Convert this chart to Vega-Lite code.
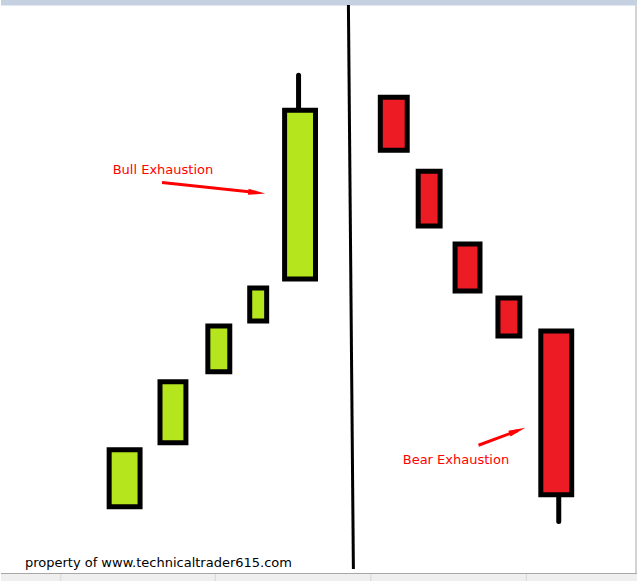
{
  "$schema": "https://vega.github.io/schema/vega-lite/v6.json",
  "width": 638,
  "height": 582,
  "padding": 0,
  "autosize": {"type": "fit", "contains": "padding"},
  "background": "#ffffff",
  "config": {"view": {"stroke": null}},
  "resolve": {"scale": {"color": "independent", "fill": "independent"}},
  "datasets": {
    "frame": [
      {"part": "top", "x0": 0, "x1": 638, "p0": 576.5, "p1": 582, "fill": "top"},
      {"part": "bottom", "x0": 0, "x1": 638, "p0": 0, "p1": 7, "fill": "bottom"}
    ],
    "seps": [
      {"x": 60, "p0": 0, "p1": 7},
      {"x": 215, "p0": 0, "p1": 7},
      {"x": 371, "p0": 0, "p1": 7},
      {"x": 527, "p0": 0, "p1": 7}
    ],
    "edges": [
      {"x0": 0, "x1": 638, "p0": 7.5, "p1": 7.5},
      {"x0": 637, "x1": 637, "p0": 7.5, "p1": 576.5}
    ],
    "candles": [
      {"id": "G1", "kind": "bull", "left": 108.5, "right": 139.5, "top": 131.5, "bottom": 74.5},
      {"id": "G2", "kind": "bull", "left": 159.5, "right": 185.5, "top": 199.5, "bottom": 138.5},
      {"id": "G3", "kind": "bull", "left": 207.5, "right": 229.5, "top": 255.5, "bottom": 209.5},
      {"id": "G4", "kind": "bull", "left": 249.5, "right": 266.5, "top": 293.5, "bottom": 260.5},
      {"id": "G5", "kind": "bull", "left": 284.5, "right": 315.5, "top": 471.5, "bottom": 302.5},
      {"id": "R1", "kind": "bear", "left": 380.5, "right": 407.5, "top": 484.5, "bottom": 431.5},
      {"id": "R2", "kind": "bear", "left": 418.5, "right": 440.5, "top": 410.5, "bottom": 355.5},
      {"id": "R3", "kind": "bear", "left": 455.5, "right": 480.5, "top": 337.5, "bottom": 290.5},
      {"id": "R4", "kind": "bear", "left": 498.5, "right": 520.5, "top": 283.5, "bottom": 245.5},
      {"id": "R5", "kind": "bear", "left": 541.5, "right": 572.5, "top": 250.5, "bottom": 86.5}
    ],
    "wicks": [
      {"id": "G5", "x": 298.5, "high": 506.5, "low": 472},
      {"id": "R5", "x": 559.5, "high": 87, "low": 59.5}
    ],
    "divider": [
      {"x0": 348.5, "p0": 577, "x1": 353.5, "p1": 12}
    ],
    "arrowLines": [
      {"arrow": "bull", "x": 161.5, "p": 399.3},
      {"arrow": "bull", "x": 256, "p": 389.1},
      {"arrow": "bear", "x": 479, "p": 136},
      {"arrow": "bear", "x": 518, "p": 150.5}
    ],
    "arrowHeads": [
      {"arrow": "bull", "x": 256.5, "p": 389, "angle": 6},
      {"arrow": "bear", "x": 518, "p": 150.5, "angle": -20}
    ],
    "labels": [
      {"text": "Bull Exhaustion", "x": 112, "p": 408, "kind": "note"},
      {"text": "Bear Exhaustion", "x": 403, "p": 117, "kind": "note"},
      {"text": "property of www.technicaltrader615.com", "x": 24, "p": 14, "kind": "credit"}
    ]
  },
  "layer": [
    {
      "data": {"name": "frame"},
      "mark": {"type": "rect"},
      "encoding": {
        "x": {"field": "x0", "type": "quantitative", "scale": {"domain": [0, 638], "nice": false, "zero": false}, "axis": null},
        "x2": {"field": "x1"},
        "y": {"field": "p0", "type": "quantitative", "scale": {"domain": [0, 582], "nice": false, "zero": false}, "axis": null},
        "y2": {"field": "p1"},
        "color": {"field": "fill", "type": "nominal", "scale": {"domain": ["top", "bottom"], "range": ["#c5d0e1", "#f0efef"]}, "legend": null}
      }
    },
    {
      "data": {"name": "seps"},
      "mark": {"type": "rule", "color": "#d6d6d6", "strokeWidth": 1},
      "encoding": {
        "x": {"field": "x", "type": "quantitative"},
        "y": {"field": "p0", "type": "quantitative"},
        "y2": {"field": "p1"}
      }
    },
    {
      "data": {"name": "edges"},
      "mark": {"type": "rule", "color": "#a8a8a8", "strokeWidth": 1},
      "encoding": {
        "x": {"field": "x0", "type": "quantitative"},
        "x2": {"field": "x1"},
        "y": {"field": "p0", "type": "quantitative"},
        "y2": {"field": "p1"}
      }
    },
    {
      "data": {"name": "divider"},
      "mark": {"type": "rule", "color": "#000000", "strokeWidth": 3},
      "encoding": {
        "x": {"field": "x0", "type": "quantitative"},
        "x2": {"field": "x1"},
        "y": {"field": "p0", "type": "quantitative"},
        "y2": {"field": "p1"}
      }
    },
    {
      "data": {"name": "wicks"},
      "mark": {"type": "rule", "color": "#000000", "strokeWidth": 5, "strokeCap": "round"},
      "encoding": {
        "x": {"field": "x", "type": "quantitative"},
        "y": {"field": "high", "type": "quantitative"},
        "y2": {"field": "low"}
      }
    },
    {
      "data": {"name": "candles"},
      "mark": {"type": "rect", "stroke": "#000000", "strokeWidth": 5, "strokeJoin": "miter"},
      "encoding": {
        "x": {"field": "left", "type": "quantitative"},
        "x2": {"field": "right"},
        "y": {"field": "top", "type": "quantitative"},
        "y2": {"field": "bottom"},
        "fill": {"field": "kind", "type": "nominal", "scale": {"domain": ["bull", "bear"], "range": ["#b5e61d", "#ed1c24"]}, "legend": null}
      }
    },
    {
      "data": {"name": "arrowLines"},
      "mark": {"type": "line", "color": "#ff0000", "strokeWidth": 3},
      "encoding": {
        "x": {"field": "x", "type": "quantitative"},
        "y": {"field": "p", "type": "quantitative"},
        "detail": {"field": "arrow", "type": "nominal"}
      }
    },
    {
      "data": {"name": "arrowHeads"},
      "mark": {"type": "point", "shape": "M-1,-0.36L1,0L-1,0.36Z", "filled": true, "color": "#ff0000", "opacity": 1, "size": 289, "strokeWidth": 0},
      "encoding": {
        "x": {"field": "x", "type": "quantitative"},
        "y": {"field": "p", "type": "quantitative"},
        "angle": {"field": "angle", "type": "quantitative", "scale": null}
      }
    },
    {
      "data": {"name": "labels"},
      "mark": {"type": "text", "align": "left", "baseline": "alphabetic", "font": "DejaVu Sans", "fontSize": 13},
      "encoding": {
        "x": {"field": "x", "type": "quantitative"},
        "y": {"field": "p", "type": "quantitative"},
        "text": {"field": "text", "type": "nominal"},
        "color": {"field": "kind", "type": "nominal", "scale": {"domain": ["note", "credit"], "range": ["#ff0000", "#000000"]}, "legend": null}
      }
    }
  ]
}
